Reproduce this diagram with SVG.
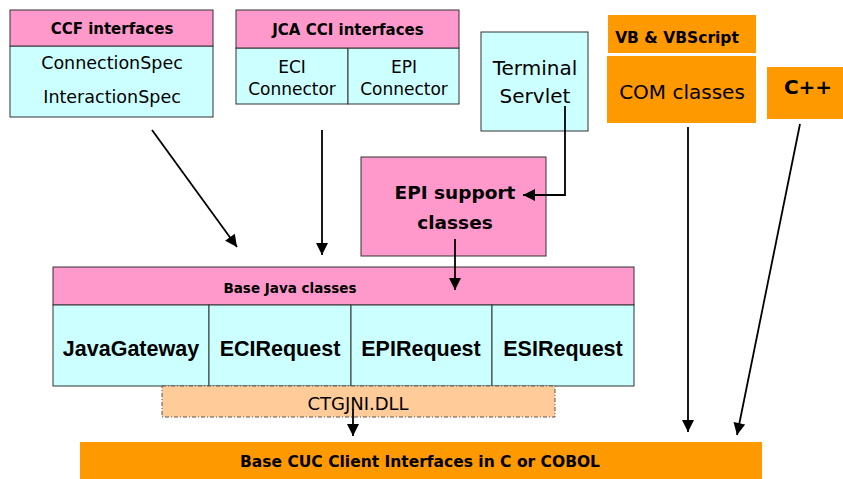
<svg xmlns="http://www.w3.org/2000/svg" width="843" height="479" viewBox="0 0 843 479">
<defs>
<style>
.pink{fill:#FF99CC;stroke:#333;stroke-width:1}
.cyan{fill:#CCFFFF;stroke:#333;stroke-width:1}
.orange{fill:#FF9900;stroke:none}
.peach{fill:#FFCC99;stroke:#555;stroke-width:1;stroke-dasharray:4,2,1,2}
.c{font-family:"Comic Sans MS","DejaVu Sans",sans-serif;fill:#000;text-anchor:middle}
.b{font-weight:bold}
.a{font-family:"Liberation Sans",Arial,sans-serif;font-weight:bold;font-size:21.5px;text-anchor:middle;fill:#000}
.ln{stroke:#000;stroke-width:1.8;fill:none}
</style>
<marker id="ah" viewBox="0 0 10 10" refX="10" refY="5" markerWidth="15" markerHeight="12" markerUnits="userSpaceOnUse" orient="auto">
<path d="M0,0 L10,5 L0,10 z" fill="#000"/>
</marker>
</defs>
<rect width="843" height="479" fill="#fff"/>
<g id="ccf">
<rect class="cyan" x="10" y="46" width="203" height="71"/>
<rect class="pink" x="10" y="10" width="203" height="36"/>
<text class="c b" x="112" y="34" font-size="15">CCF interfaces</text>
<text class="c" x="112" y="69" font-size="17.5">ConnectionSpec</text>
<text class="c" x="112" y="103" font-size="17.5">InteractionSpec</text>
</g>
<g id="jca">
<rect class="cyan" x="236" y="48" width="112" height="56"/>
<rect class="cyan" x="348" y="48" width="111" height="56"/>
<rect class="pink" x="236" y="10" width="223" height="38"/>
<text class="c b" x="348" y="35" font-size="15">JCA CCI interfaces</text>
<text class="c" x="292" y="73" font-size="17">ECI</text>
<text class="c" x="292" y="95" font-size="17">Connector</text>
<text class="c" x="404" y="73" font-size="17">EPI</text>
<text class="c" x="404" y="95" font-size="17">Connector</text>
</g>
<g id="terminal">
<rect class="cyan" x="481" y="32" width="107" height="99"/>
<text class="c" x="535" y="75" font-size="20">Terminal</text>
<text class="c" x="535" y="103" font-size="20">Servlet</text>
</g>
<g id="vb">
<rect class="orange" x="608" y="15" width="148" height="38"/>
<text class="c b" x="677" y="43" font-size="15.5">VB &amp; VBScript</text>
</g>
<g id="com">
<rect class="orange" x="607" y="56" width="149" height="67"/>
<text class="c" x="682" y="99" font-size="20">COM classes</text>
</g>
<g id="cpp">
<rect class="orange" x="767" y="67" width="76" height="52"/>
<text class="c b" x="808" y="94" font-size="20">C++</text>
</g>
<g id="epi">
<rect class="pink" x="361" y="157" width="185" height="99"/>
<text class="c b" x="455" y="199" font-size="18.5">EPI support</text>
<text class="c b" x="455" y="229" font-size="18.5">classes</text>
</g>
<g id="basejava">
<rect class="pink" x="53" y="267" width="581" height="38"/>
<rect class="cyan" x="53" y="305" width="156" height="81"/>
<rect class="cyan" x="209" y="305" width="142" height="81"/>
<rect class="cyan" x="351" y="305" width="141" height="81"/>
<rect class="cyan" x="492" y="305" width="142" height="81"/>
<text class="c b" x="290" y="293" font-size="13.5">Base Java classes</text>
<text class="a" x="131" y="356">JavaGateway</text>
<text class="a" x="280" y="356">ECIRequest</text>
<text class="a" x="421" y="356">EPIRequest</text>
<text class="a" x="563" y="356">ESIRequest</text>
</g>
<g id="ctgjni">
<rect class="peach" x="162" y="386" width="393" height="31"/>
<text class="c" x="358" y="410" font-size="18">CTGJNI.DLL</text>
</g>
<g id="cuc">
<rect class="orange" x="80" y="442" width="682" height="37"/>
<text class="c b" x="420" y="467" font-size="15.5">Base CUC Client Interfaces in C or COBOL</text>
</g>
<g id="connectors">
<line class="ln" x1="152" y1="130" x2="237" y2="247" marker-end="url(#ah)"/>
<line class="ln" x1="322" y1="130" x2="322" y2="255" marker-end="url(#ah)"/>
<polyline class="ln" points="565,106 565,195 523,195" marker-end="url(#ah)"/>
<line class="ln" x1="455" y1="239" x2="455" y2="290" marker-end="url(#ah)"/>
<line class="ln" x1="353" y1="409" x2="353" y2="436" marker-end="url(#ah)"/>
<line class="ln" x1="688" y1="127" x2="688" y2="432" marker-end="url(#ah)"/>
<line class="ln" x1="800" y1="124" x2="737" y2="435" marker-end="url(#ah)"/>
</g>
</svg>
